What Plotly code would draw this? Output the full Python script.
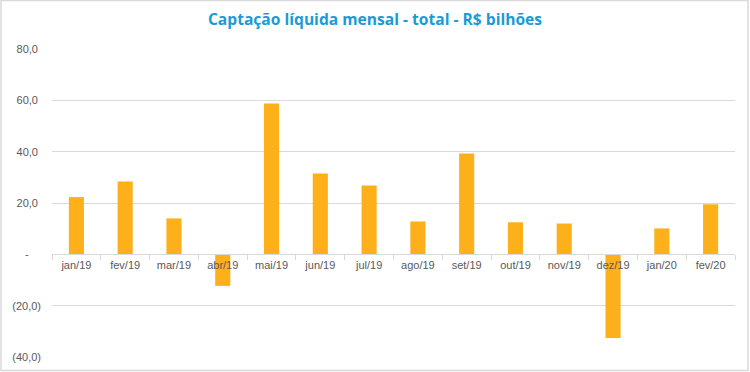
import plotly.graph_objects as go

months = ["jan/19", "fev/19", "mar/19", "abr/19", "mai/19", "jun/19", "jul/19",
          "ago/19", "set/19", "out/19", "nov/19", "dez/19", "jan/20", "fev/20"]
captacao = [22.3, 28.4, 14.0, -12.3, 58.8, 31.5, 26.8,
            12.8, 39.3, 12.5, 12.0, -32.6, 10.1, 19.5]

y_tickvals = [80, 60, 40, 20, 0, -20, -40]
y_ticktext = ["80,0\u00a0", "60,0\u00a0", "40,0\u00a0", "20,0\u00a0",
              "-\u00a0\u00a0\u00a0\u00a0", "(20,0)", "(40,0)"]

fig = go.Figure()
fig.add_trace(go.Bar(
    x=months, y=captacao,
    marker=dict(color="#FDB01A", line=dict(width=0)),
    width=0.31,
    hoverinfo="x+y",
))

W, H = 750, 372
L, R, T, B = 52, 15, 49, 15
pw, ph = W - L - R, H - T - B

fig.update_layout(
    width=W, height=H,
    margin=dict(l=L, r=R, t=T, b=B, autoexpand=False),
    paper_bgcolor="white", plot_bgcolor="white",
    showlegend=False,
    title=dict(
        text="<b>Captação líquida mensal - total - R$ bilhões</b>",
        x=0.5, xref="container", xanchor="center",
        y=1 - 20 / H, yref="container", yanchor="middle",
        font=dict(family="Open Sans", size=15.6, color="#1A9BD7"),
    ),
    xaxis=dict(
        type="category", automargin=False,
        anchor="free", position=40 / 120,
        showline=True, linecolor="#D9D9D9", linewidth=1,
        ticks="outside", tickson="boundaries", ticklen=5,
        tickcolor="#D9D9D9", tickwidth=1,
        showgrid=False,
        tickfont=dict(family="Liberation Sans", size=11, color="#595959"),
    ),
    yaxis=dict(
        range=[-40, 80], automargin=False,
        tickvals=y_tickvals, ticktext=y_ticktext,
        showgrid=True, gridcolor="#D9D9D9", gridwidth=1,
        zeroline=True, zerolinecolor="#D9D9D9", zerolinewidth=1,
        showline=False, ticks="",
        ticklabelstandoff=10,
        tickfont=dict(family="Liberation Sans", size=11, color="#595959"),
    ),
    bargap=0.69,
)

# outer chart border
fig.add_shape(
    type="rect", xref="paper", yref="paper",
    x0=(1 - L) / pw, x1=(748 - L) / pw,
    y0=(H - B - 370.5) / ph, y1=(H - B - 0.5) / ph,
    line=dict(color="#D9D9D9", width=1.5), fillcolor="rgba(0,0,0,0)",
    layer="above",
)

fig.write_html(
    "out.html",
    config={"displayModeBar": False},
    post_script="document.body.style.margin='0';document.body.style.overflow='hidden';",
)
